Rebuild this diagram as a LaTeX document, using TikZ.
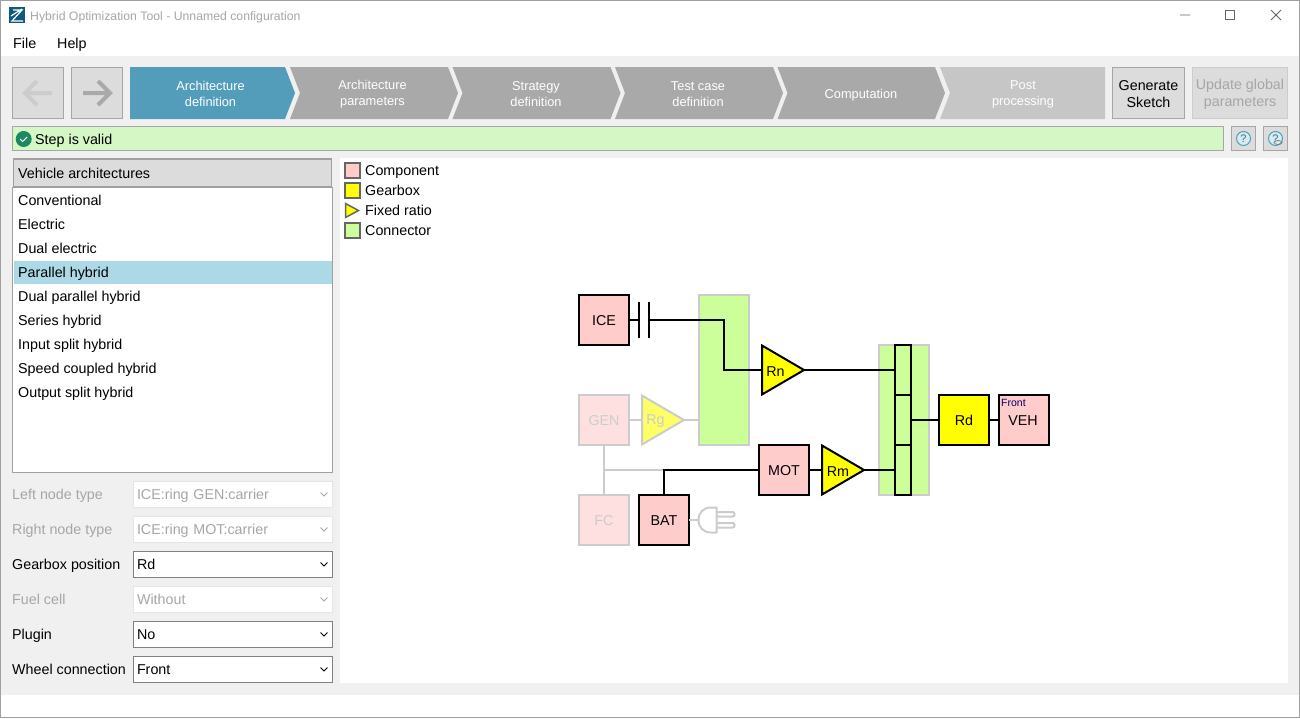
\documentclass[tikz,border=0pt]{standalone}
\usepackage{fontspec}
\setmainfont{Liberation Sans}
\usepackage{tikz}
\usetikzlibrary{shapes.geometric}

\definecolor{winback}{HTML}{F0F0F0}
\definecolor{winedge}{HTML}{A0A0A0}
\definecolor{faint}{HTML}{A6A6A6}
\definecolor{btnfill}{HTML}{DCDCDC}
\definecolor{logoblue}{HTML}{10587F}
\definecolor{stepblue}{HTML}{539DBA}
\definecolor{stepgrey}{HTML}{A9A9A9}
\definecolor{steplight}{HTML}{C6C6C6}
\definecolor{okgreen}{HTML}{D5F7C6}
\definecolor{okdark}{HTML}{1B8A5F}
\definecolor{compred}{HTML}{FFCCCC}
\definecolor{compfade}{HTML}{FFE0E0}
\definecolor{gearyellow}{HTML}{FFFF00}
\definecolor{gearfade}{HTML}{FFFF66}
\definecolor{linkgreen}{HTML}{CCFF99}
\definecolor{fadeline}{HTML}{CCCCCC}
\definecolor{rowblue}{HTML}{ADD8E6}

\newcommand{\uitext}{\fontsize{14.3}{17}\selectfont}
\newcommand{\steptext}{\fontsize{12.8}{16}\selectfont}
\newcommand{\combotick}[2]{\draw[#2, line width=1pt] (320.5, #1) -- ++ (3.5, 3.5) -- ++ (3.5, -3.5);}

\tikzset{
    uilabel/.style={anchor=west, inner sep=0pt, font=\uitext, text height=10pt, text depth=3pt},
    uidim/.style={uilabel, text=faint},
    stepname/.style={align=center, inner sep=0pt, text=white, font=\steptext},
    button/.style={draw=faint, fill=btnfill, line width=1pt, align=center, inner sep=0pt, font=\uitext},
    buttonname/.style={align=center, inner sep=0pt, font=\uitext},
    combo/.style={draw=#1, fill=white, line width=1pt, anchor=west, minimum height=26pt, text width=192pt, inner xsep=3.5pt, inner ysep=0pt, outer sep=0pt, align=left, font=\uitext, text height=10pt, text depth=0pt},
    comp/.style={draw=black, fill=compred, line width=2pt, minimum size=50pt, inner sep=0pt, outer sep=0pt, font=\uitext, text height=10pt, text depth=0pt},
    compfaded/.style={comp, draw=fadeline, fill=compfade, text=fadeline},
    gear/.style={comp, fill=gearyellow},
    ratio/.style={isosceles triangle, isosceles triangle apex angle=60, isosceles triangle stretches, draw=black, fill=gearyellow, line width=2pt, minimum width=49pt, minimum height=42pt, inner sep=0pt, outer sep=0pt, anchor=lower side},
    ratiofaded/.style={ratio, draw=fadeline, fill=gearfade},
    rationame/.style={inner sep=0pt, font=\uitext},
    link/.style={draw=fadeline, fill=linkgreen, line width=2pt, minimum width=50pt, inner sep=0pt, outer sep=0pt},
    linkcell/.style={draw=black, fill=linkgreen, line width=2pt, minimum width=16pt, minimum height=50pt, inner sep=0pt, outer sep=0pt},
    wire/.style={draw=black, line width=2pt},
    wirefaded/.style={draw=fadeline, line width=2pt},
    swatch/.style={draw=black!60, line width=1.5pt, inner sep=0pt, minimum size=15pt},
}

\begin{document}
\begin{tikzpicture}[x=1pt, y=-1pt]
    \useasboundingbox (0, 0) rectangle (1300, 718);

    % window
    \fill[white] (0, 0) rectangle (1300, 718);
    \fill[winback] (1, 56) rectangle (1299, 695);
    \fill[white] (340, 158) rectangle (1288, 683);
    \draw[winedge, line width=1pt] (0.5, 0.5) rectangle (1299.5, 717.5);

    % title bar
    \fill[logoblue] (9, 7) rectangle (25, 23);
    \draw[white, line width=1.2pt]
        (11, 16) -- (22, 9)
        (13, 10) -- (22, 10) -- (12, 21) -- (23, 21)
    ;
    \node[uilabel, text=faint, font=\fontsize{12.25}{15}\selectfont] (title) at (30, 16.5) {Hybrid Optimization Tool - Unnamed configuration};
    \draw[black!60, line width=0.8pt]
        (1180, 15) -- (1190, 15)
        (1225.5, 10.5) rectangle (1234.5, 19.5)
        (1271, 10) -- (1281, 20)
        (1281, 10) -- (1271, 20)
    ;
    \node[uilabel] (menuFile) at (13, 44.5) {File};
    \node[uilabel] (menuHelp) at (57, 44.5) {Help};

    % navigation
    \node[button, minimum width=51pt, minimum height=51pt] (back) at (38, 93) {};
    \node[button, minimum width=51pt, minimum height=51pt] (next) at (97, 93) {};
    \draw[fadeline, line width=4pt]
        (52, 93) -- (26, 93)
        (37, 81) -- (25, 93) -- (37, 105)
    ;
    \draw[stepgrey, line width=4pt]
        (83, 93) -- (109, 93)
        (98, 81) -- (110, 93) -- (98, 105)
    ;

    % steps
    \fill[stepblue] (130, 67) -- (285, 67) -- (295, 93) -- (285, 119) -- (130, 119) -- cycle;
    \fill[stepgrey] (290, 67) -- (448, 67) -- (458, 93) -- (448, 119) -- (290, 119) -- (300, 93) -- cycle;
    \fill[stepgrey] (452.5, 67) -- (610.5, 67) -- (620.5, 93) -- (610.5, 119) -- (452.5, 119) -- (462.5, 93) -- cycle;
    \fill[stepgrey] (615, 67) -- (773, 67) -- (783, 93) -- (773, 119) -- (615, 119) -- (625, 93) -- cycle;
    \fill[stepgrey] (777.5, 67) -- (935, 67) -- (945, 93) -- (935, 119) -- (777.5, 119) -- (787.5, 93) -- cycle;
    \fill[steplight] (940, 67) -- (1105, 67) -- (1105, 119) -- (940, 119) -- (950, 93) -- cycle;
    \node[stepname] (stepArch) at (210.5, 94) {Architecture\\definition};
    \node[stepname] (stepParam) at (372.5, 94) {Architecture\\parameters};
    \node[stepname] (stepStrat) at (536, 94) {Strategy\\definition};
    \node[stepname] (stepTest) at (698, 94) {Test case\\definition};
    \node[stepname] (stepComp) at (861, 95) {Computation};
    \node[stepname] (stepPost) at (1023, 94) {Post\\processing};

    \node[button, minimum width=72pt, minimum height=51pt] (generate) at (1148.5, 93) {};
    \node[button, draw=fadeline, minimum width=95pt, minimum height=51pt] (update) at (1240, 93) {};
    \node[buttonname] (generateText) at (1148.5, 94) {Generate\\Sketch};
    \node[buttonname, text=faint] (updateText) at (1240, 94) {Update global\\parameters};

    % status
    \node[button, fill=okgreen, anchor=west, minimum width=1211pt, minimum height=24pt] (status) at (12, 138.5) {};
    \fill[okdark] (23.7, 139) circle (8);
    \draw[white, line width=1pt] (20.2, 139) -- (22.7, 141.5) -- (27.2, 137);
    \node[uilabel] (statusText) at (35, 140.5) {Step is valid};
    \node[button, minimum size=24pt] (helpA) at (1243.5, 138.5) {};
    \node[button, minimum size=24pt] (helpB) at (1275.5, 138.5) {};
    \draw[stepblue, fill=rowblue!50, line width=1pt]
        (1243.5, 138.5) circle (7)
        (1275.5, 138.5) circle (7)
    ;
    \node[inner sep=0pt, text=stepblue!70!black, font=\fontsize{11}{11}\selectfont] (helpMarkA) at (1243.5, 138.5) {?};
    \node[inner sep=0pt, text=stepblue!70!black, font=\fontsize{11}{11}\selectfont] (helpMarkB) at (1275.5, 138.5) {?};
    \draw[black!50, line width=0.8pt] (1278, 142.5) ellipse (4 and 2);

    % architecture list
    \draw[winedge, fill=white, line width=1pt] (12.5, 187.5) rectangle (332.5, 472.5);
    \node[button, draw=winedge, line width=1.5pt, anchor=west, minimum width=318pt, minimum height=28pt, outer sep=0pt] (listHead) at (13.5, 173) {};
    \fill[rowblue] (14, 261) rectangle (332, 284);
    \node[uilabel] (vehicleHead) at (18, 174.5) {Vehicle architectures};
    \node[uilabel] (itemConv) at (18, 202) {Conventional};
    \node[uilabel] (itemElec) at (18, 226) {Electric};
    \node[uilabel] (itemDual) at (18, 250) {Dual electric};
    \node[uilabel] (itemPar) at (18, 274) {Parallel hybrid};
    \node[uilabel] (itemDualPar) at (18, 298) {Dual parallel hybrid};
    \node[uilabel] (itemSeries) at (18, 322) {Series hybrid};
    \node[uilabel] (itemInput) at (18, 346) {Input split hybrid};
    \node[uilabel] (itemSpeed) at (18, 370) {Speed coupled hybrid};
    \node[uilabel] (itemOutput) at (18, 394) {Output split hybrid};

    % options
    \node[uidim] (leftLabel) at (12, 496) {Left node type};
    \node[uidim] (rightLabel) at (12, 531) {Right node type};
    \node[uilabel] (gearLabel) at (12, 566) {Gearbox position};
    \node[uidim] (fuelLabel) at (12, 601) {Fuel cell};
    \node[uilabel] (plugLabel) at (12, 636) {Plugin};
    \node[uilabel] (wheelLabel) at (12, 671) {Wheel connection};
    \node[combo=black!10, text=faint] (leftCombo) at (133.5, 494) {ICE:ring GEN:carrier};
    \node[combo=black!10, text=faint] (rightCombo) at (133.5, 529) {ICE:ring MOT:carrier};
    \node[combo=black!50] (gearCombo) at (133.5, 564) {Rd};
    \node[combo=black!10, text=faint] (fuelCombo) at (133.5, 599) {Without};
    \node[combo=black!50] (plugCombo) at (133.5, 634) {No};
    \node[combo=black!50] (wheelCombo) at (133.5, 669) {Front};
    \combotick{492.5}{faint}
    \combotick{527.5}{faint}
    \combotick{562.5}{black}
    \combotick{597.5}{faint}
    \combotick{632.5}{black}
    \combotick{667.5}{black}

    % legend
    \node[swatch, fill=compred] (keyComp) at (352.5, 170.5) {};
    \node[swatch, fill=gearyellow] (keyGear) at (352.5, 190.5) {};
    \node[swatch, fill=linkgreen] (keyLink) at (352.5, 230.5) {};
    \draw[black!60, fill=gearyellow, line width=1.5pt] (345.5, 203.5) -- (358.5, 210.5) -- (345.5, 217.5) -- cycle;
    \node[uilabel] (keyCompText) at (365, 171.5) {Component};
    \node[uilabel] (keyGearText) at (365, 191.5) {Gearbox};
    \node[uilabel] (keyRatioText) at (365, 211.5) {Fixed ratio};
    \node[uilabel] (keyLinkText) at (365, 231.5) {Connector};

    % architecture
    \node[link, minimum height=150pt] (linkL) at (724, 370) {};
    \node[link, minimum height=150pt] (linkR) at (904, 420) {};
    \node[linkcell] (cellA) at (903, 370) {};
    \node[linkcell] (cellB) at (903, 420) {};
    \node[linkcell] (cellC) at (903, 470) {};

    \node[comp] (ICE) at (604, 320) {ICE};
    \node[compfaded] (GEN) at (604, 420) {GEN};
    \node[compfaded] (FC) at (604, 520) {FC};
    \node[comp] (BAT) at (664, 520) {BAT};
    \node[comp] (MOT) at (784, 470) {MOT};
    \node[gear] (Rd) at (964, 420) {Rd};
    \node[comp] (VEH) at (1024, 420) {};
    \node[inner sep=0pt, font=\uitext] (VEHname) at (1023, 421) {VEH};
    \node[anchor=west, inner sep=0pt, text=blue!40!black, font=\fontsize{10.5}{12}\selectfont] (front) at (1001, 402.5) {Front};

    \node[ratio] (Rn) at (762, 370) {};
    \node[ratiofaded] (Rg) at (642, 420) {};
    \node[ratio] (Rm) at (822, 470) {};
    \node[rationame] (RnName) at (775.5, 371.5) {Rn};
    \node[rationame, text=fadeline] (RgName) at (655.5, 421.5) {Rg};
    \node[rationame] (RmName) at (838, 471.5) {Rm};

    \coordinate (clutchA) at (639, 320);
    \coordinate (clutchB) at (649, 320);
    \coordinate (genBus) at (604, 470);
    \coordinate (batBus) at (664, 470);
    \coordinate (plug) at (698.5, 520);

    \draw[wirefaded]
        (GEN) -- (Rg.lower side)
        (Rg.apex) -- (linkL.west |- Rg.apex)
        (GEN) -- (FC)
        (genBus) -- (batBus)
        (BAT) -- (plug)
    ;
    \draw[wirefaded, line join=round]
        (716.5, 507.5) -- (711, 507.5) .. controls (703, 507.5) and (698.5, 513) .. (698.5, 520)
            .. controls (698.5, 527) and (703, 532.5) .. (711, 532.5) -- (716.5, 532.5) -- cycle
    ;
    \draw[wirefaded, rounded corners=2pt]
        (716.5, 512) -- (734.5, 512) -- (734.5, 516.5) -- (716.5, 516.5)
        (716.5, 523) -- (734.5, 523) -- (734.5, 527.5) -- (716.5, 527.5)
    ;
    \draw[wire]
        (ICE) -- (clutchA)
        (clutchA |- 0, 302) -- (clutchA |- 0, 338)
        (clutchB |- 0, 302) -- (clutchB |- 0, 338)
    ;
    \draw[wire, line join=miter]
        (clutchB) -| (linkL.center) |- (Rn.lower side)
        (Rn.apex) -- (cellA.west |- Rn.apex)
        (BAT) |- (MOT)
        (MOT) -- (Rm.lower side)
        (Rm.apex) -- (cellC.west |- Rm.apex)
        (cellB) -- (Rd)
        (Rd) -- (VEH)
    ;
\end{tikzpicture}
\end{document}
